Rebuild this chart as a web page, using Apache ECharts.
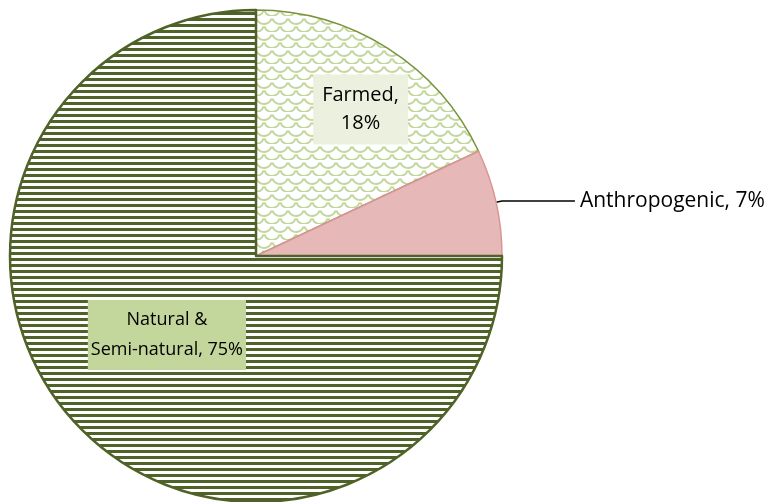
<!DOCTYPE html>
<html><head><meta charset="utf-8">
<script src="https://cdn.jsdelivr.net/npm/echarts@6/dist/echarts.min.js"></script>
<style>html,body{margin:0;padding:0;background:#fff}#c{width:772px;height:502px}</style>
</head><body><div id="c"></div>
<script>
const categories = ['Farmed', 'Anthropogenic', 'Natural & Semi-natural'];
const labelTexts = ['Farmed,\n18%', 'Anthropogenic, 7%', 'Natural &\nSemi-natural, 75%'];
const values = [18, 7, 75];

function stripeCanvas() {
  const c = document.createElement('canvas'); c.width = 8; c.height = 6;
  const x = c.getContext('2d');
  x.fillStyle = '#ffffff'; x.fillRect(0, 0, 8, 6);
  x.fillStyle = '#4f6228'; x.fillRect(0, 0, 8, 3);
  return c;
}
function shingleCanvas() {
  const c = document.createElement('canvas'); c.width = 16; c.height = 16;
  const x = c.getContext('2d');
  x.fillStyle = '#ffffff'; x.fillRect(0, 0, 16, 16);
  x.strokeStyle = '#c3d69b'; x.lineWidth = 2;
  x.beginPath(); x.arc(8, 0, 8, 0.1 * Math.PI, 0.9 * Math.PI); x.stroke();
  x.beginPath(); x.arc(0, 8, 8, 0.1 * Math.PI, 0.9 * Math.PI); x.stroke();
  x.beginPath(); x.arc(16, 8, 8, 0.1 * Math.PI, 0.9 * Math.PI); x.stroke();
  x.beginPath(); x.arc(8, 16, 8, 0.1 * Math.PI, 0.9 * Math.PI); x.stroke();
  return c;
}

const styles = [
  { color: { image: shingleCanvas(), repeat: 'repeat' }, borderColor: '#77933c', borderWidth: 1.5 },
  { color: '#e6b9b8', borderColor: '#d99594', borderWidth: 1.5 },
  { color: { image: stripeCanvas(), repeat: 'repeat' }, borderColor: '#4f6228', borderWidth: 2.5 }
];
const labels = [
  { position: 'inside', backgroundColor: '#ebf1de', padding: [7, 9], lineHeight: 28, fontSize: 20 },
  { position: 'outside', lineHeight: 24, fontSize: 21 },
  { position: 'inside', backgroundColor: '#c3d69b', padding: [5, 3], lineHeight: 30, fontSize: 18 }
];

const chart = echarts.init(document.getElementById('c'), null, { renderer: 'canvas' });
chart.setOption({
  animation: false,
  series: [{
    type: 'pie',
    center: [256, 256],
    radius: 246,
    startAngle: 90,
    clockwise: true,
    avoidLabelOverlap: false,
    emphasis: { disabled: true },
    label: {
      color: '#000', fontFamily: 'Open Sans', fontSize: 20,
      formatter: p => labelTexts[p.dataIndex]
    },
    labelLine: { length: 6, length2: 73, lineStyle: { color: '#000', width: 1.5 } },
    labelLayout: p => p.dataIndex === 0 ? { dx: 37, dy: -40 } : (p.dataIndex === 2 ? { dy: -10 } : {}),
    data: categories.map((n, i) => ({
      name: n, value: values[i], itemStyle: styles[i],
      label: labels[i], labelLine: { show: i === 1 }
    }))
  }]
});
</script></body></html>
